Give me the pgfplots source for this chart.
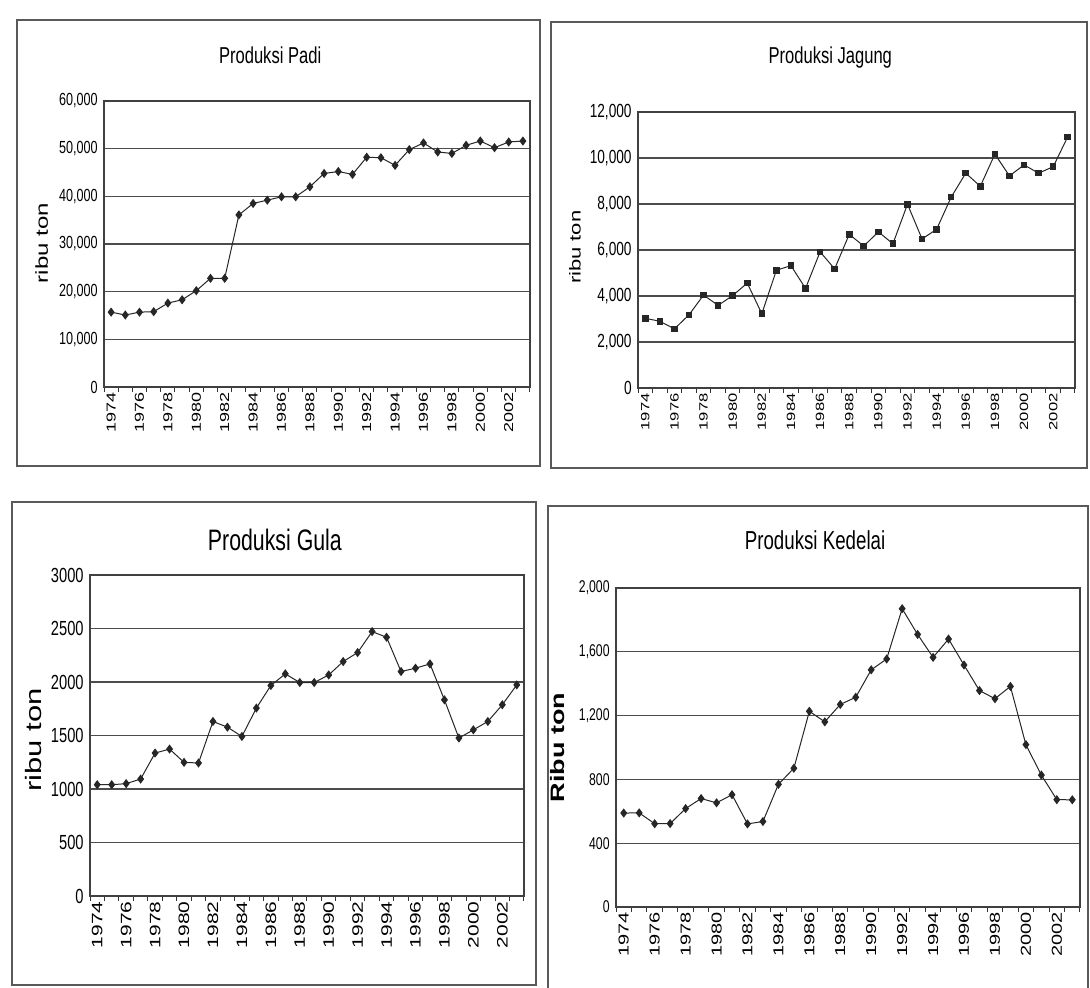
\documentclass[border=0pt]{standalone}
\usepackage{fontspec}
\setmainfont{Liberation Sans}
\usepackage{graphicx}
\usepackage{pgfplots}
\pgfplotsset{compat=1.18}

\pgfplotsset{
  excel/.style={
    scale only axis, anchor=south west,
    xmin=1973.5, xmax=2003.5,
    xtick={1974,1976,...,2002},
    minor xtick={1973.5,1974.5,...,2003.5},
    major tick length=0pt, minor tick length=2.5pt,
    tick align=outside, tick pos=left,
    minor x tick style={black!80, line width=0.5pt},
    ymajorgrids, grid style={black!70, line width=0.6pt},
    axis line style={black!75, line width=0.6pt},
    scaled ticks=false,
    every axis title shift=0pt,
    /pgf/number format/assume math mode=true,
    xticklabel style={rotate=90, anchor=east, inner sep=2.5pt},
    yticklabel style={inner sep=3pt},
    xticklabel={\scalebox{1}[0.72]{\pgfmathprintnumber[1000 sep={}]{\tick}}},
    title style={anchor=center},
    ylabel style={anchor=center},
  },
  dline/.style={black!85, line width=0.5pt, mark=diamond*, mark size=1.9pt, mark options={solid, fill=black!85, draw=black!85}},
  sline/.style={black!85, line width=0.5pt, mark=square*, mark size=1.4pt, mark options={solid, fill=black!85, draw=black!85}},
}

\begin{document}
\begin{tikzpicture}
\useasboundingbox (0,0) rectangle (545pt,494pt);
% panel frames
\draw[black!65, line width=0.9pt] (8.5pt,484pt) rectangle (270pt,261pt);
\draw[black!65, line width=0.9pt] (275.5pt,483pt) rectangle (543.5pt,260pt);
\draw[black!65, line width=0.9pt] (6pt,243pt) rectangle (268pt,1.5pt);
\draw[black!65, line width=0.9pt] (274pt,241pt) rectangle (544pt,-4pt);

% ---------- Produksi Padi ----------
\begin{axis}[excel, at={(52pt,300.5pt)}, width=213pt, height=143pt,
  ymin=0, ymax=60000, ytick={0,10000,...,60000},
  yticklabel={\scalebox{0.72}[1]{\pgfmathprintnumber[1000 sep={,}]{\tick}}},
  xticklabel style={font=\fontsize{9}{10}\selectfont},
  yticklabel style={font=\fontsize{8.75}{10}\selectfont},
  title={\scalebox{0.72}[1]{Produksi Padi}},
  title style={at={(axis description cs:0.39,1.161)}, font=\fontsize{11.5}{13}\selectfont},
  ylabel={\scalebox{1}[0.72]{ribu ton}},
  ylabel style={at={(axis description cs:-0.146,0.503)}, font=\fontsize{12}{13}\selectfont},
]
\addplot[dline] coordinates {
(1974,15700) (1975,15100) (1976,15700) (1977,15800) (1978,17600) (1979,18300)
(1980,20200) (1981,22800) (1982,22800) (1983,36100) (1984,38500) (1985,39200)
(1986,39900) (1987,39900) (1988,42000) (1989,44800) (1990,45200) (1991,44600)
(1992,48200) (1993,48100) (1994,46500) (1995,49800) (1996,51200) (1997,49300)
(1998,49000) (1999,50700) (2000,51600) (2001,50200) (2002,51400) (2003,51600)
};
\end{axis}

% ---------- Produksi Jagung ----------
\begin{axis}[excel, at={(319pt,300pt)}, width=218.5pt, height=138pt,
  ymin=0, ymax=12000, ytick={0,2000,...,12000},
  yticklabel={\scalebox{0.72}[1]{\pgfmathprintnumber[1000 sep={,}]{\tick}}},
  xticklabel style={font=\fontsize{8.3}{10}\selectfont},
  yticklabel style={font=\fontsize{9.5}{10}\selectfont},
  title={\scalebox{0.72}[1]{Produksi Jagung}},
  title style={at={(axis description cs:0.44,1.196)}, font=\fontsize{11.5}{13}\selectfont},
  ylabel={\scalebox{1}[0.72]{ribu ton}},
  ylabel style={at={(axis description cs:-0.144,0.51)}, font=\fontsize{11}{13}\selectfont},
]
\addplot[sline] coordinates {
(1974,3030) (1975,2900) (1976,2570) (1977,3180) (1978,4040) (1979,3590)
(1980,4020) (1981,4560) (1982,3230) (1983,5120) (1984,5320) (1985,4330)
(1986,5920) (1987,5180) (1988,6680) (1989,6170) (1990,6790) (1991,6270)
(1992,7990) (1993,6480) (1994,6900) (1995,8300) (1996,9340) (1997,8770)
(1998,10170) (1999,9220) (2000,9700) (2001,9340) (2002,9620) (2003,10920)
};
\end{axis}

% ---------- Produksi Gula ----------
\begin{axis}[excel, at={(45pt,46pt)}, width=217pt, height=160.5pt,
  ymin=0, ymax=3000, ytick={0,500,...,3000},
  yticklabel={\scalebox{0.72}[1]{\pgfmathprintnumber[1000 sep={}]{\tick}}},
  xticklabel style={font=\fontsize{10.5}{11}\selectfont},
  yticklabel style={font=\fontsize{10.2}{11}\selectfont},
  title={\scalebox{0.72}[1]{Produksi Gula}},
  title style={at={(axis description cs:0.426,1.109)}, font=\fontsize{14.8}{16}\selectfont},
  ylabel={\scalebox{1}[0.72]{ribu ton}},
  ylabel style={at={(axis description cs:-0.129,0.486)}, font=\fontsize{15.5}{17}\selectfont},
]
\addplot[dline] coordinates {
(1974,1040) (1975,1040) (1976,1050) (1977,1093) (1978,1336) (1979,1373)
(1980,1249) (1981,1243) (1982,1631) (1983,1578) (1984,1491) (1985,1756)
(1986,1967) (1987,2076) (1988,1995) (1989,1995) (1990,2066) (1991,2191)
(1992,2275) (1993,2471) (1994,2418) (1995,2098) (1996,2129) (1997,2169)
(1998,1833) (1999,1476) (2000,1553) (2001,1631) (2002,1787) (2003,1973)
};
\end{axis}

% ---------- Produksi Kedelai ----------
\begin{axis}[excel, at={(308pt,40.5pt)}, width=232pt, height=159.5pt,
  ymin=0, ymax=2000, ytick={0,400,...,2000},
  yticklabel={\scalebox{0.72}[1]{\pgfmathprintnumber[1000 sep={,}]{\tick}}},
  xticklabel style={font=\fontsize{10}{11}\selectfont},
  yticklabel style={font=\fontsize{8.5}{10}\selectfont},
  title={\scalebox{0.72}[1]{Produksi Kedelai}},
  title style={at={(axis description cs:0.429,1.15)}, font=\fontsize{13}{15}\selectfont},
  ylabel={\scalebox{1}[0.72]{\bfseries Ribu ton}},
  ylabel style={at={(axis description cs:-0.127,0.50)}, font=\fontsize{13.5}{15}\selectfont},
]
\addplot[dline] coordinates {
(1974,589) (1975,590) (1976,522) (1977,523) (1978,617) (1979,680)
(1980,653) (1981,704) (1982,521) (1983,536) (1984,769) (1985,870)
(1986,1227) (1987,1161) (1988,1270) (1989,1315) (1990,1487) (1991,1555)
(1992,1870) (1993,1709) (1994,1565) (1995,1680) (1996,1517) (1997,1357)
(1998,1306) (1999,1383) (2000,1018) (2001,827) (2002,673) (2003,672)
};
\end{axis}
\end{tikzpicture}
\end{document}
